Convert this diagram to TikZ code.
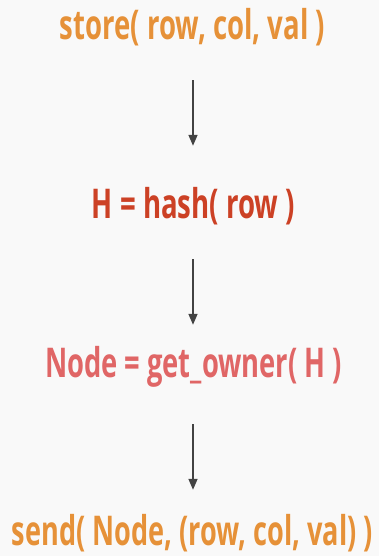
\documentclass[tikz,border=0pt]{standalone}
\usepackage{fontspec}
\usepackage{graphicx}
\setmainfont{Open Sans}
\usetikzlibrary{arrows.meta}
\definecolor{bgc}{HTML}{F9F9F9}
\definecolor{corange}{HTML}{E69138}
\definecolor{cred}{HTML}{CC4125}
\definecolor{csalmon}{HTML}{E06666}
\definecolor{carrow}{HTML}{434343}
\newcommand{\fitw}[2]{\resizebox{#1pt}{\height}{\fontsize{41}{41}\selectfont\bfseries #2}}
\begin{document}
\begin{tikzpicture}[x=1pt,y=-1pt,
  lbl/.style={anchor=base,inner sep=0pt,text height=30pt,text depth=10pt},
  arr/.style={draw=carrow,line width=1.5pt,-{Triangle[length=11pt,width=9pt]}}]
\fill[bgc] (0,0) rectangle (379,556);
\useasboundingbox (0,0) rectangle (379,556);
\coordinate (ax) at (193,0);
\node[lbl,text=corange] (t1) at (192.5,40) {\fitw{265}{store( row, col, val )}};
\node[lbl,text=cred] (t2) at (193.5,218) {\fitw{203}{H = hash( row )}};
\node[lbl,text=csalmon] (t3) at (193.5,377) {\fitw{297}{Node = get\_owner( H )}};
\node[lbl,text=corange] (t4) at (192.5,545) {\fitw{361}{send( Node, (row, col, val) )}};
\draw[arr,shorten <=30pt,shorten >=42pt] (t1.south -| ax) -- (t2.north -| ax);
\draw[arr,shorten <=31pt,shorten >=22pt] (t2.south -| ax) -- (t3.north -| ax);
\draw[arr,shorten <=37pt,shorten >=25pt] (t3.south -| ax) -- (t4.north -| ax);
\end{tikzpicture}
\end{document}
